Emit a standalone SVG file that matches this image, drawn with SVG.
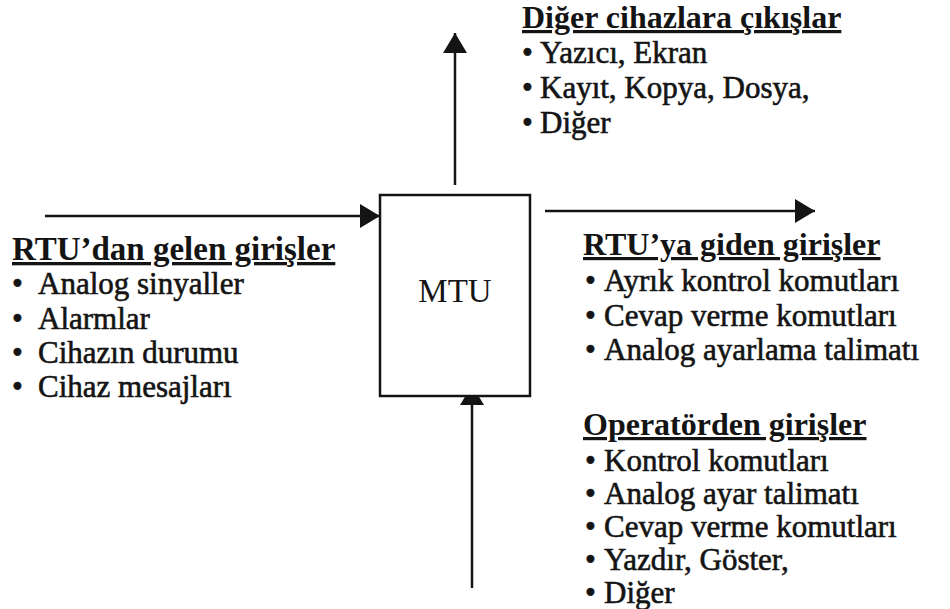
<svg xmlns="http://www.w3.org/2000/svg" width="950" height="609" viewBox="0 0 950 609">
  <style>
    text { font-family: "Liberation Serif", "Times New Roman", serif; font-size: 31px; fill: #141414; }
    .hdr { font-weight: bold; text-decoration: underline; }
    .item { stroke: #141414; stroke-width: 0.6; }
    .line { stroke: #141414; stroke-width: 2.5; fill: none; }
    .box { stroke: #141414; stroke-width: 2.5; fill: #fff; }
  </style>
  <defs>
    <marker id="head" viewBox="0 0 20 24" refX="20" refY="12" markerWidth="22" markerHeight="24" markerUnits="userSpaceOnUse" orient="auto">
      <path d="M0,0 L20,12 L0,24 Z" fill="#141414"/>
    </marker>
  </defs>
  <rect width="950" height="609" fill="#fff"/>

  <!-- connectors -->
  <g id="connectors">
    <line class="line" x1="45" y1="216" x2="380" y2="216" marker-end="url(#head)"/>
    <line class="line" x1="545" y1="211" x2="815" y2="211" marker-end="url(#head)"/>
    <line class="line" x1="455" y1="185" x2="455" y2="33" marker-end="url(#head)"/>
    <line class="line" x1="472" y1="588" x2="472" y2="385" marker-end="url(#head)"/>
  </g>

  <!-- central unit -->
  <g id="mtu">
    <rect class="box" x="380" y="195" width="150" height="201"/>
    <text x="455" y="302" text-anchor="middle" style="font-size:33px">MTU</text>
  </g>

  <!-- inputs arriving from RTU -->
  <g id="rtu-in">
    <text class="hdr" x="12" y="260" style="font-size:33px">RTU’dan gelen girişler</text>
    <text class="item" x="12" y="294">•<tspan x="38">Analog sinyaller</tspan></text>
    <text class="item" x="12" y="329">•<tspan x="38">Alarmlar</tspan></text>
    <text class="item" x="12" y="363">•<tspan x="38">Cihazın durumu</tspan></text>
    <text class="item" x="12" y="397">•<tspan x="38">Cihaz mesajları</tspan></text>
  </g>

  <!-- outputs to other devices -->
  <g id="devices-out">
    <text class="hdr" x="522" y="28" style="font-size:32px">Diğer cihazlara çıkışlar</text>
    <text class="item" x="522" y="63">•<tspan x="540">Yazıcı, Ekran</tspan></text>
    <text class="item" x="522" y="98">•<tspan x="540">Kayıt, Kopya, Dosya,</tspan></text>
    <text class="item" x="522" y="133">•<tspan x="540">Diğer</tspan></text>
  </g>

  <!-- commands sent to RTU -->
  <g id="rtu-out">
    <text class="hdr" x="583" y="255" style="font-size:32px">RTU’ya giden girişler</text>
    <text class="item" x="585" y="291">•<tspan x="604">Ayrık kontrol komutları</tspan></text>
    <text class="item" x="585" y="326">•<tspan x="604">Cevap verme komutları</tspan></text>
    <text class="item" x="585" y="360">•<tspan x="604">Analog ayarlama talimatı</tspan></text>
  </g>

  <!-- operator inputs -->
  <g id="operator-in">
    <text class="hdr" x="583" y="435" style="font-size:32px">Operatörden girişler</text>
    <text class="item" x="585" y="471">•<tspan x="604">Kontrol komutları</tspan></text>
    <text class="item" x="585" y="504">•<tspan x="604">Analog ayar talimatı</tspan></text>
    <text class="item" x="585" y="537">•<tspan x="604">Cevap verme komutları</tspan></text>
    <text class="item" x="585" y="570">•<tspan x="604">Yazdır, Göster,</tspan></text>
    <text class="item" x="585" y="603">•<tspan x="604">Diğer</tspan></text>
  </g>
</svg>
